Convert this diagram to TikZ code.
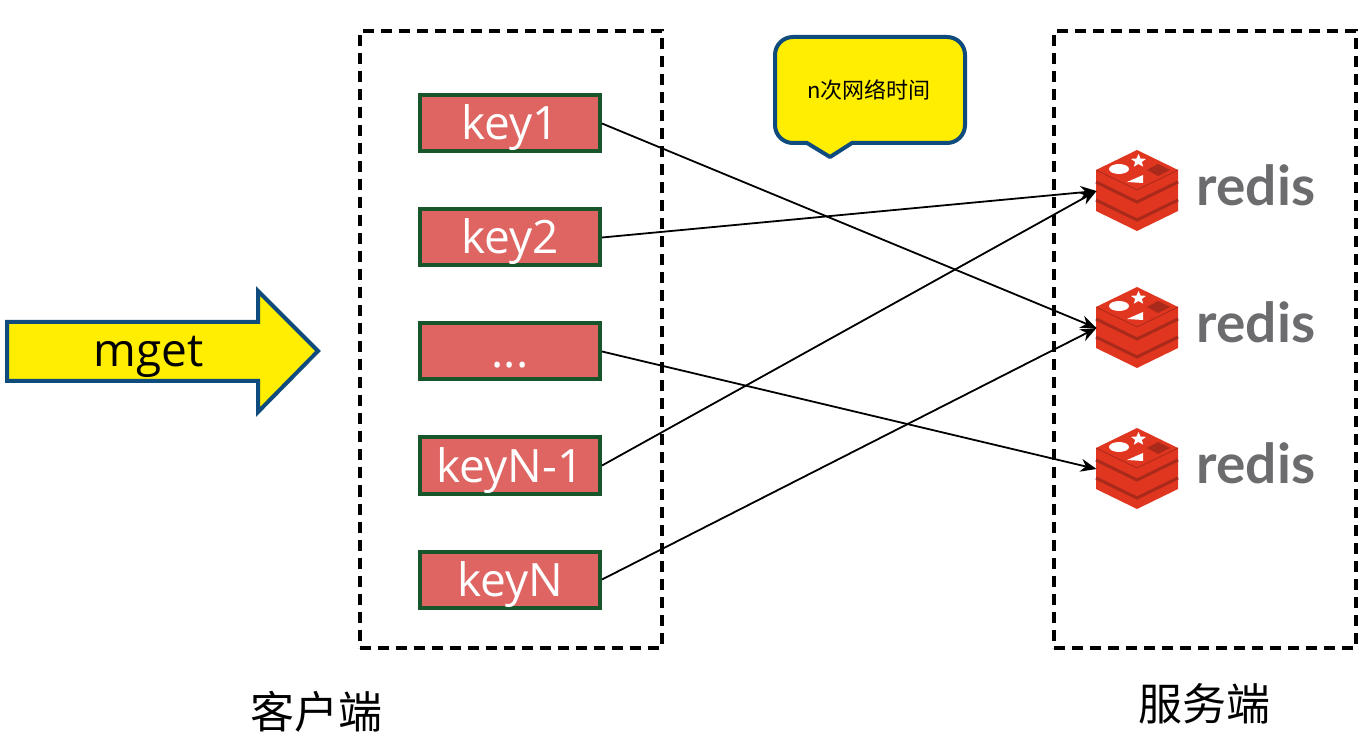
\documentclass[tikz,border=0pt]{standalone}
\usepackage{fontspec}
\setmainfont{Open Sans}
\newfontfamily\cjkfont{Noto Sans CJK SC}
\newfontfamily\redisfont{Lato}
\usetikzlibrary{arrows.meta}

\definecolor{keyred}{HTML}{DE6562}
\definecolor{keygreen}{HTML}{17562B}
\definecolor{callblue}{HTML}{0F4C7D}
\definecolor{callyellow}{HTML}{FFEE00}
\definecolor{logored}{HTML}{E0351F}
\definecolor{logodark}{HTML}{A92A1A}
\definecolor{redisgrey}{HTML}{6C6C6E}

\newcommand{\keydots}{...}

\tikzset{
  dashbox/.style={draw=black, line width=2pt, dash pattern=on 5.5pt off 3.5pt, minimum width=151pt, minimum height=308pt},
  keybox/.style={draw=keygreen, line width=2pt, fill=keyred, text=white, minimum width=90pt, minimum height=28pt, inner sep=0pt, text height=16.5pt, text depth=0pt, font=\fontsize{23}{23}\selectfont},
  logobox/.style={minimum width=40.5pt, minimum height=40.5pt, inner sep=0pt, outer sep=0pt},
  redistext/.style={text=redisgrey, inner sep=0pt, font=\redisfont\bfseries\fontsize{27.5}{27.5}\selectfont},
  sidelabel/.style={inner sep=0pt, font=\cjkfont\fontsize{22}{22}\selectfont},
  calloutshape/.style={draw=callblue, fill=callyellow, line width=2pt, line join=round},
  link/.style={black, line width=0.9pt, -{Stealth[length=8pt,width=6.5pt]}},
  redislogo/.pic={
    \fill[logored] (-41,-21) -- (0,-41) -- (41,-21) -- (41,20) -- (0,40) -- (-41,20) -- cycle;
    \foreach \o in {0,18}
      \draw[logodark, line width=1.5pt] (-41,-9+\o) -- (0,11+\o) -- (41,-9+\o);
    \draw[logodark, line width=0.4pt] (-41,-21) -- (0,-1) -- (41,-21);
    \fill[white] (-18,-22) ellipse (10 and 5);
    \fill[white] (-10,-9) -- (6,-16) -- (6,-8) -- cycle;
    \fill[white] plot[samples at={0,...,9}, variable=\k] ({1.5+(mod(\k,2)==0?8:3.5)*sin(36*\k)},{-30-(mod(\k,2)==0?7:3)*cos(36*\k)}) -- cycle;
    \fill[logodark] (21,-27) -- (33,-21) -- (21,-15) -- (10,-21) -- cycle;
  }
}

\begin{document}
\begin{tikzpicture}[x=0.5pt, y=-0.5pt]
\useasboundingbox (0,0) rectangle (1369,742);

\node[dashbox] (clientbox) at (510.5,339.5) {};
\node[dashbox] (serverbox) at (1205,339.5) {};
\node[sidelabel] (clientlabel) at (316,712) {客户端};
\node[sidelabel] (serverlabel) at (1204,704) {服务端};

\draw[calloutshape] (793,37) -- (947,37) to[out=0, in=90] (965,55) -- (965,125) to[out=-90, in=0] (947,143)
  -- (852,143) -- (830,157) -- (807,143) -- (793,143) to[out=180, in=-90] (775,125) -- (775,55) to[out=90, in=180] cycle;
\node[inner sep=0pt, font=\cjkfont\fontsize{11}{11}\selectfont] (calltext) at (869,90) {n次网络时间};

\draw[calloutshape, line join=miter] (7,322) -- (258,322) -- (258,291) -- (318,351) -- (258,412) -- (258,381) -- (7,381) -- cycle;
\node[inner sep=0pt, font=\fontsize{23}{23}\selectfont] (mgettext) at (149,357) {mget};

\foreach \i/\t/\y in {1/key1/123.5, 2/key2/237.5, 3/\keydots/351.5, 4/keyN-1/465.5, 5/keyN/579.5}
  \node[keybox] (key\i) at (510,\y) {\t};

\foreach \i/\y in {1/191, 2/328, 3/469} {
  \node[logobox] (redis\i) at (1137,\y) {};
  \pic at (redis\i) {redislogo};
  \node[redistext] (redistext\i) at (1256,\y-6) {redis};
}

\draw[link] (key1.east) -- (redis2.west);
\draw[link] (key2.east) -- (redis1.west);
\draw[link] (key3.east) -- (redis3.west);
\draw[link] (key4.east) -- (redis1.west);
\draw[link] (key5.east) -- (redis2.west);

\end{tikzpicture}
\end{document}
